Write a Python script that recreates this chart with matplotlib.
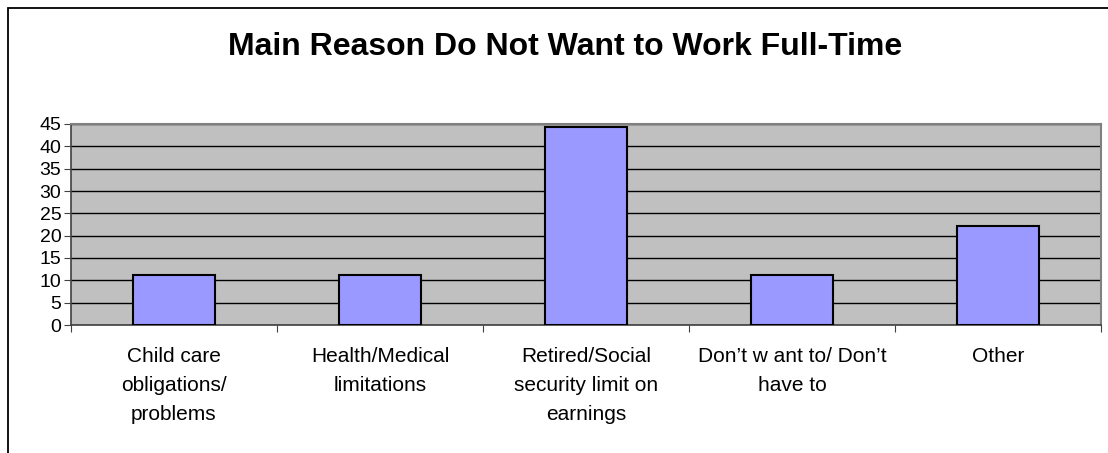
import matplotlib
matplotlib.use("Agg")
import matplotlib.pyplot as plt
from matplotlib.patches import Rectangle

# ─── Data ───────────────────────────────────────────────────────────────────
categories = [
    "Child care\nobligations/\nproblems",
    "Health/Medical\nlimitations",
    "Retired/Social\nsecurity limit on\nearnings",
    "Don\u2019t w ant to/ Don\u2019t\nhave to",
    "Other",
]
values = [11.1, 11.1, 44.4, 11.1, 22.2]
y_ticks = [0, 5, 10, 15, 20, 25, 30, 35, 40, 45]
title = "Main Reason Do Not Want to Work Full-Time"

plt.rcParams["font.family"] = ["Liberation Sans", "DejaVu Sans"]

W, H = 1108, 453
fig = plt.figure(figsize=(W / 100, H / 100), dpi=100)
fig.patch.set_facecolor("white")

# outer chart frame (cut off at right and bottom like the reference)
fig.patches.append(Rectangle((8 / W, -0.2), 1.2, (H - 8) / H + 0.2,
                             transform=fig.transFigure, fill=False,
                             edgecolor="black", lw=1.3))

ax = fig.add_axes([71 / W, 1 - 325 / H, (1101 - 71) / W, (325 - 124) / H])
ax.set_facecolor("#C0C0C0")

x = list(range(len(categories)))
ax.bar(x, values, width=0.4, color="#9999FF", edgecolor="black", lw=1.5, zorder=3)

ax.set_xlim(-0.5, len(categories) - 0.5)
ax.set_ylim(0, 45)
ax.set_yticks(y_ticks)
ax.set_yticklabels([str(v) for v in y_ticks], fontsize=14)
ax.yaxis.grid(True, color="black", lw=1, zorder=1)
ax.set_axisbelow(True)

# ticks at category boundaries, labels centred under bars
ax.set_xticks([i - 0.5 for i in range(len(categories) + 1)])
ax.set_xticklabels([])
ax.set_xticks(x, minor=True)
ax.set_xticklabels(categories, minor=True, fontsize=15, linespacing=1.65)
ax.tick_params(axis="x", which="major", length=5, color="#404040")
ax.tick_params(axis="x", which="minor", length=0, pad=16)
ax.tick_params(axis="y", length=5, pad=2, color="#404040")

for side in ["top", "right"]:
    ax.spines[side].set_color("#808080")
    ax.spines[side].set_linewidth(1.5)
for side in ["left", "bottom"]:
    ax.spines[side].set_color("#404040")
    ax.spines[side].set_linewidth(1.2)

fig.text(565.5 / W, 1 - 47 / H, title, ha="center", va="center",
         fontsize=23, fontweight="bold")

fig.savefig("out.png", dpi=100)
